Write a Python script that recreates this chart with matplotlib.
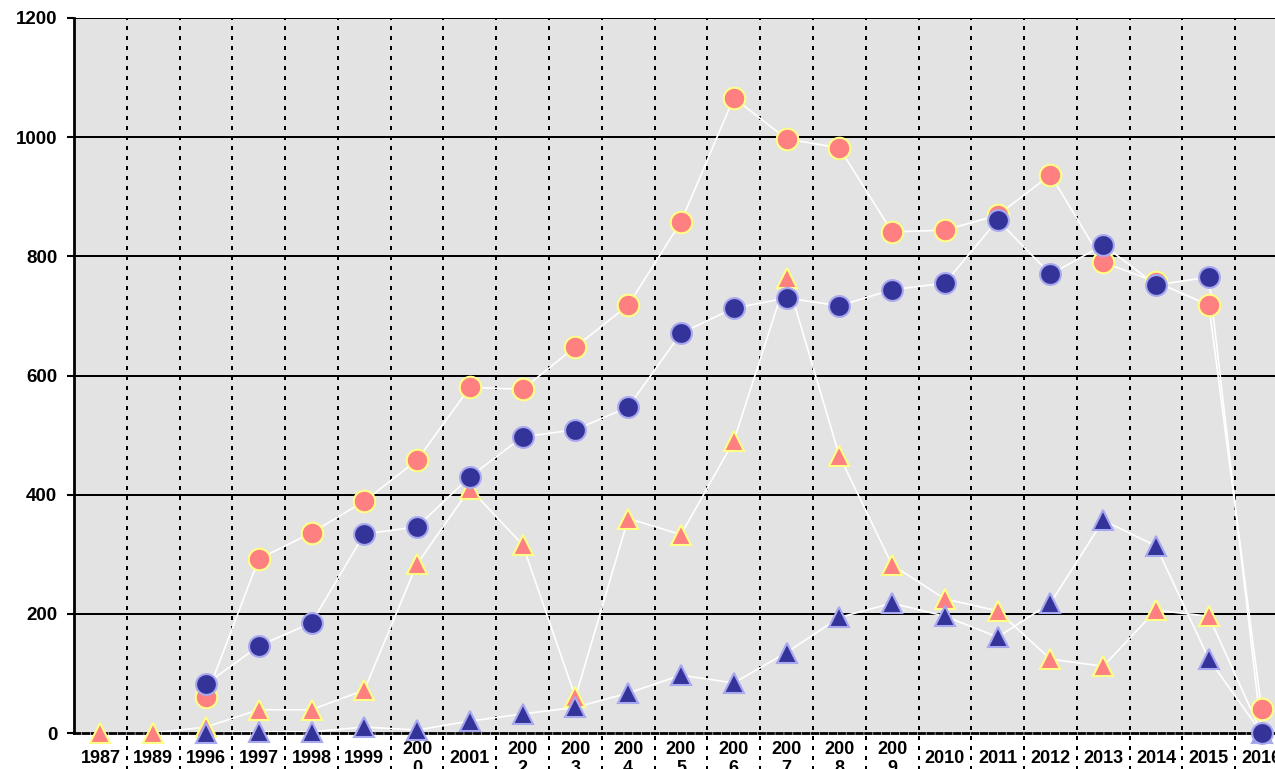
import numpy as np
import matplotlib
matplotlib.use("Agg")
import matplotlib.pyplot as plt

plt.rcParams['font.family'] = ['Liberation Sans', 'DejaVu Sans']

# === data ===
years = ["1987", "1989", "1996", "1997", "1998", "1999", "2000", "2001", "2002",
         "2003", "2004", "2005", "2006", "2007", "2008", "2009", "2010", "2011",
         "2012", "2013", "2014", "2015", "2016"]
tick_labels = ["1987", "1989", "1996", "1997", "1998", "1999", "200\n0", "2001",
               "200\n2", "200\n3", "200\n4", "200\n5", "200\n6", "200\n7",
               "200\n8", "200\n9", "2010", "2011", "2012", "2013", "2014",
               "2015", "2016"]
nan = np.nan
pink_circle = [nan, nan, 60, 292, 336, 389, 458, 580, 577, 648, 718, 858, 1066,
               997, 982, 841, 844, 869, 937, 790, 757, 718, 40]
navy_circle = [nan, nan, 82, 146, 185, 334, 346, 430, 497, 509, 547, 671, 713,
               730, 717, 744, 755, 861, 770, 819, 752, 765, 0]
pink_triangle = [0, 0, 10, 39, 39, 72, 284, 410, 316, 60, 360, 333, 490, 764,
                 465, 282, 225, 205, 124, 112, 206, 196, 0]
navy_triangle = [nan, nan, 0, 2, 2, 10, 5, 20, 32, 43, 67, 97, 84, 135, 194,
                 218, 196, 161, 218, 357, 314, 124, 0]

PINK = "#ff8080"
PINK_EDGE = "#ffff88"
NAVY = "#333399"
NAVY_EDGE = "#a8a8f0"

x = np.arange(len(years))

fig = plt.figure(figsize=(12.75, 7.69), dpi=100)
ax = fig.add_axes([74 / 1275, 36 / 769, 1214 / 1275, 715 / 769])
ax.set_facecolor("#e3e3e3")

# white connecting lines
for s in [pink_circle, pink_triangle, navy_circle, navy_triangle]:
    ax.plot(x, s, color="white", lw=1.2, zorder=3)

# markers sit on top of the axis line, so don't clip them
ax.plot(x, pink_circle, "o", ms=15.5, mfc=PINK, mec=PINK_EDGE, mew=1.5,
        zorder=9, clip_on=False)
ax.plot(x, pink_triangle, "^", ms=14, mfc=PINK, mec=PINK_EDGE, mew=1.5,
        zorder=10, clip_on=False)
ax.plot(x, navy_triangle, "^", ms=14, mfc=NAVY, mec=NAVY_EDGE, mew=1.5,
        zorder=11, clip_on=False)
ax.plot(x, navy_circle, "o", ms=15, mfc=NAVY, mec=NAVY_EDGE, mew=1.5,
        zorder=12, clip_on=False)

ax.set_xlim(-0.5, len(years) - 0.5)
ax.set_ylim(0, 1200)

# horizontal grid
ax.set_yticks(np.arange(0, 1201, 200))
for v in np.arange(200, 1201, 200):
    ax.axhline(v, color="black", lw=1.44, zorder=1)

# dotted category separators, running down through the label area
bounds = x[1:] - 0.5
ax.vlines(bounds, -0.06, 1, transform=ax.get_xaxis_transform(), colors="black",
          linestyles=(0, (2, 3)), lw=1.44, clip_on=False, zorder=2)

# axes styling
for side in ["top", "right"]:
    ax.spines[side].set_visible(False)
ax.spines["left"].set_linewidth(2)
ax.spines["bottom"].set_linewidth(2)
ax.spines["bottom"].set_linestyle((0, (2, 1.2)))
ax.spines["bottom"].set_zorder(8)

ax.tick_params(axis="y", length=5, width=1.5, pad=7, labelsize=13.5)
for lbl in ax.get_yticklabels():
    lbl.set_fontweight("bold")

ax.set_xticks(x)
ax.set_xticklabels(tick_labels, fontsize=13, fontweight="bold", linespacing=1.15)
ax.tick_params(axis="x", length=0, pad=18.5)
for lbl in ax.get_xticklabels():
    lbl.set_verticalalignment("center")

fig.savefig("out.png", dpi=100)
